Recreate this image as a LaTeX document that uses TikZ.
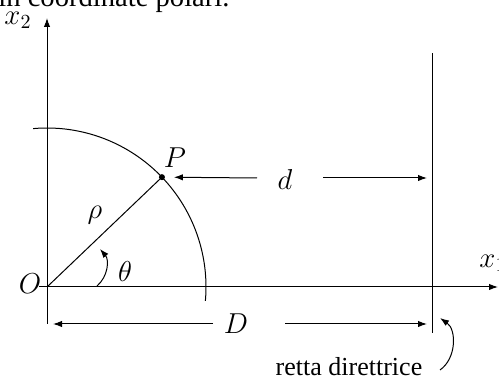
\documentclass[tikz,border=0pt]{standalone}
\usepackage{fontspec}
\setmainfont{Liberation Serif}
\usetikzlibrary{arrows.meta}
\begin{document}
\begin{tikzpicture}[x=.5pt,y=.5pt,line width=.5pt,>={Latex[length=4.5pt,width=3.2pt]},
  line cap=butt,font=\fontsize{15}{18}\selectfont,
  lbl/.style={inner sep=0pt},
  axlbl/.style={inner sep=0pt,font=\fontsize{14}{16}\selectfont}]
  \useasboundingbox (0,0) rectangle (499,385);
  \clip (0,0) rectangle (499,385);
  % text of the page above the picture
  \node[lbl,anchor=base east,font=\fontsize{14.3}{17}\selectfont] (txt) at (230,378) {in coordinate polari.};
  % axes and directrix
  \coordinate (O) at (47,98);
  \coordinate (x1a) at (39,98);
  \coordinate (x1b) at (498,98);
  \coordinate (x2a) at (47,61);
  \coordinate (x2b) at (47,367);
  \draw[->] (x1a) -- (x1b);
  \draw[->] (x2a) -- (x2b);
  \coordinate (Ra) at (432,52);
  \coordinate (Rb) at (432,332);
  \draw (Ra) -- (Rb);
  % conic arc, radius vector and point P
  \coordinate (P) at (43.7:159);
  \draw ([shift={(95:159)}]O) arc[start angle=95,end angle=-5,radius=159];
  \draw (O) -- ([shift={(O)}]P);
  \coordinate (P) at ([shift={(O)}]P);
  \fill (P) circle[radius=3];
  % labels
  \node[lbl] (Plbl) at (175,227) {$P$};
  \node[lbl] (Olbl) at (30,101) {$O$};
  \node[lbl] (rho) at (95,170) {$\rho$};
  \node[lbl] (theta) at (125,113) {$\theta$};
  \node[axlbl] (x2) at (18,365) {$x_2$};
  \node[axlbl] (x1) at (493,122) {$x_1$};
  % angle arrow
  \coordinate (ta) at (97,99);
  \coordinate (tb) at (100,136);
  \draw[->] (ta) to[bend right=45] (tb);
  % distance d
  \node[lbl] (d) at (285,205) {$d$};
  \coordinate (dl) at (257,207);
  \coordinate (dr) at (323,207);
  \coordinate (dR) at (432,207);
  \draw[->,shorten >=6pt] (dl) -- (P);
  \draw[->,shorten >=2.5pt] (dr) -- (dR);
  % distance D
  \node[lbl] (D) at (236,61) {$D$};
  \coordinate (Dl) at (213,61);
  \coordinate (Dr) at (285,61);
  \coordinate (DO) at (47,61);
  \coordinate (DR) at (432,61);
  \draw[->,shorten >=3pt] (Dl) -- (DO);
  \draw[->,shorten >=2.5pt] (Dr) -- (DR);
  % directrix label
  \node[lbl,font=\fontsize{13}{15}\selectfont] (rd) at (349,18) {retta direttrice};
  \coordinate (ra) at (440,15);
  \coordinate (rb) at (440,67);
  \draw[->] (ra) to[bend right=55] (rb);
\end{tikzpicture}
\end{document}
